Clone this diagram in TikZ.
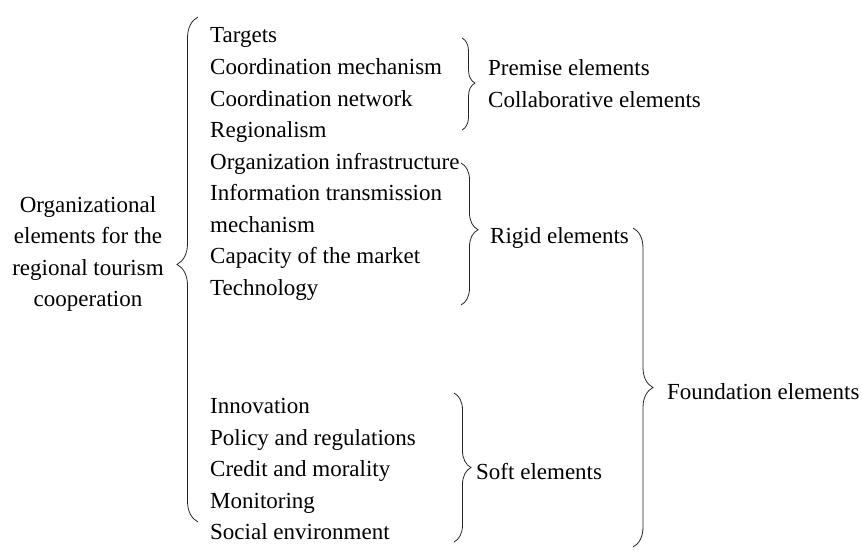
\documentclass[tikz,border=0pt]{standalone}
\usepackage{fontspec}
\setmainfont{Liberation Serif}
\usetikzlibrary{decorations.pathreplacing}
\begin{document}
\begin{tikzpicture}[x=1pt,y=-1pt,
  txt/.style={anchor=base west,inner sep=0pt,font=\fontsize{23}{31.6}\selectfont},
  brc/.style={decorate,decoration={brace,amplitude=#1},line width=0.8pt,draw=black!85},
]
\useasboundingbox (0,0) rectangle (862,550);
% left label
\node[align=center,inner sep=0pt,font=\fontsize{23}{31.6}\selectfont] (root) at (88,254)
  {Organizational\\elements for the\\regional tourism\\cooperation};
% list
\node[txt] (t1) at (210,42) {Targets};
\node[txt] (t2) at (210,74) {Coordination mechanism};
\node[txt] (t3) at (210,106) {Coordination network};
\node[txt] (t4) at (210,137) {Regionalism};
\node[txt] (t5) at (210,169) {Organization infrastructure};
\node[txt] (t6) at (210,200) {Information transmission};
\node[txt] (t7) at (210,232) {mechanism};
\node[txt] (t8) at (210,263) {Capacity of the market};
\node[txt] (t9) at (210,295) {Technology};
\node[txt] (s1) at (210,413) {Innovation};
\node[txt] (s2) at (210,445) {Policy and regulations};
\node[txt] (s3) at (210,476) {Credit and morality};
\node[txt] (s4) at (210,508) {Monitoring};
\node[txt] (s5) at (210,539) {Social environment};
% group labels
\node[txt] (prem) at (488,75) {Premise elements};
\node[txt] (coll) at (488,107) {Collaborative elements};
\node[txt] (rigid) at (490,243) {Rigid elements};
\node[txt] (soft) at (476,479) {Soft elements};
\node[txt] (found) at (667,399) {Foundation elements};
% brace end points
\coordinate (LbT) at (198,17);   \coordinate (LbB) at (198,522);
\coordinate (PbT) at (462,38);   \coordinate (PbB) at (462,130);
\coordinate (RbT) at (461,163);  \coordinate (RbB) at (461,305);
\coordinate (SbT) at (454,393);  \coordinate (SbB) at (454,542);
\coordinate (FbT) at (633,228);  \coordinate (FbB) at (633,547);
% braces
\draw[brc=21,decoration={aspect=0.51}] (LbB) -- (LbT);
\draw[brc=13,decoration={aspect=0.49}] (PbT) -- (PbB);
\draw[brc=17,decoration={aspect=0.47}] (RbT) -- (RbB);
\draw[brc=17,decoration={aspect=0.50}] (SbT) -- (SbB);
\draw[brc=20,decoration={aspect=0.50}] (FbT) -- (FbB);
\end{tikzpicture}
\end{document}
